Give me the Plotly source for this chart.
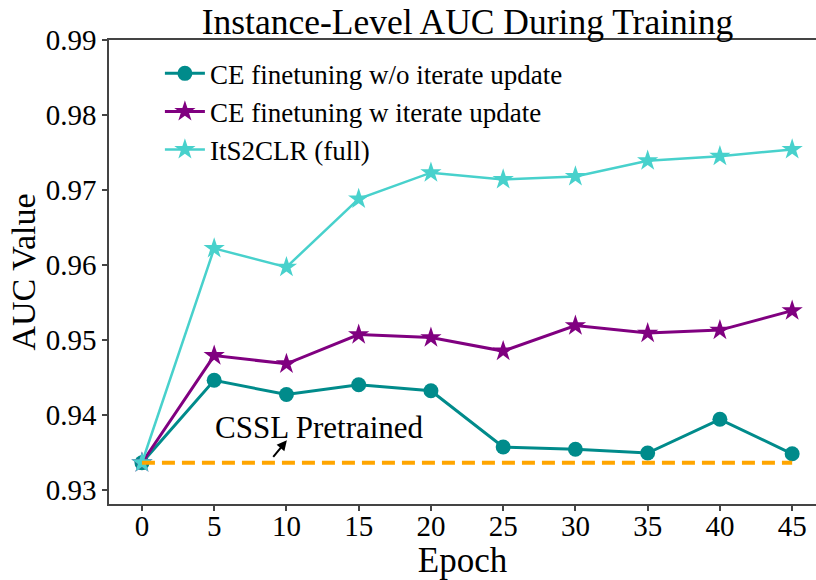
import plotly.graph_objects as go

epochs = [0, 5, 10, 15, 20, 25, 30, 35, 40, 45]
ce_wo_iter = [0.9336, 0.9446, 0.9427, 0.9440, 0.9432, 0.9357, 0.9354, 0.9349, 0.9394, 0.9348]
ce_w_iter = [0.9336, 0.9479, 0.9468, 0.9507, 0.9503, 0.9485, 0.9519, 0.9509, 0.9513, 0.9539]
its2clr = [0.9336, 0.9622, 0.9597, 0.9688, 0.9723, 0.9714, 0.9718, 0.9739, 0.9745, 0.9754]
baseline_x = [0, 45]
baseline_y = [0.9336, 0.9336]

series_names = ["CE finetuning w/o iterate update", "CE finetuning w iterate update", "ItS2CLR (full)"]
y_ticks = [0.93, 0.94, 0.95, 0.96, 0.97, 0.98, 0.99]
x_ticks = epochs

FONT = "Liberation Serif, Times New Roman, serif"

fig = go.Figure()
fig.add_trace(go.Scatter(x=epochs, y=ce_wo_iter, mode="lines+markers", name=series_names[0],
                         line=dict(color="#008B8B", width=3),
                         marker=dict(symbol="circle", size=15, color="#008B8B")))
fig.add_trace(go.Scatter(x=epochs, y=ce_w_iter, mode="lines+markers", name=series_names[1],
                         line=dict(color="#800080", width=3),
                         marker=dict(symbol="star", size=16, color="#800080", line=dict(width=0))))
fig.add_trace(go.Scatter(x=epochs, y=its2clr, mode="lines+markers", name=series_names[2],
                         line=dict(color="#48D1CC", width=2.5),
                         marker=dict(symbol="star", size=16, color="#48D1CC", line=dict(width=0))))
fig.add_trace(go.Scatter(x=baseline_x, y=baseline_y, mode="lines", showlegend=False,
                         line=dict(color="#FFA500", width=4, dash="13px,7px")))

fig.add_annotation(x=12.32, y=0.93833, text="CSSL Pretrained", showarrow=False,
                   font=dict(family=FONT, size=31, color="black"))
fig.add_annotation(x=10.03, y=0.9366, ax=9.0, ay=0.9342, axref="x", ayref="y", text="",
                   showarrow=True, arrowhead=2, arrowsize=1, arrowwidth=2, arrowcolor="black")

fig.update_layout(
    width=816, height=580,
    margin=dict(l=109, r=0, t=40, b=76),
    paper_bgcolor="white", plot_bgcolor="white",
    font=dict(family=FONT, color="black"),
    title=dict(text="Instance-Level AUC During Training", x=0.507, xref="paper", xanchor="center",
               y=0.963, yref="container", yanchor="middle",
               font=dict(family=FONT, size=35.5, color="black")),
    legend=dict(x=0.072, y=0.98, xanchor="left", yanchor="top", bgcolor="rgba(0,0,0,0)",
                font=dict(family=FONT, size=27, color="black"), itemwidth=40,
                tracegroupgap=0),
    showlegend=True,
)
fig.update_xaxes(range=[-2.28, 46.65], tickmode="array", tickvals=x_ticks,
                 ticktext=[str(v) for v in x_ticks], automargin=False,
                 showgrid=False, zeroline=False, showline=True, linecolor="#444", linewidth=1.5,
                 mirror=True, ticks="outside", ticklen=5, tickcolor="#444", tickwidth=1.5,
                 ticklabelstandoff=-10,
                 tickfont=dict(family=FONT, size=29, color="black"),
                 title=dict(text="Epoch", font=dict(family=FONT, size=35, color="black"), standoff=1))
fig.update_yaxes(range=[0.9281, 0.99], tickmode="array", tickvals=y_ticks,
                 ticktext=[f"{v:.2f}" for v in y_ticks], automargin=False,
                 showgrid=False, zeroline=False, showline=True, linecolor="#444", linewidth=1.5,
                 mirror=False, ticks="outside", ticklen=5, tickcolor="#444", tickwidth=1.5,
                 tickfont=dict(family=FONT, size=29, color="black"),
                 title=dict(text="AUC Value", font=dict(family=FONT, size=34, color="black"), standoff=0))

fig.write_html("out.html", config={"displayModeBar": False},
               post_script="document.body.style.margin='0';document.body.style.padding='0';")
